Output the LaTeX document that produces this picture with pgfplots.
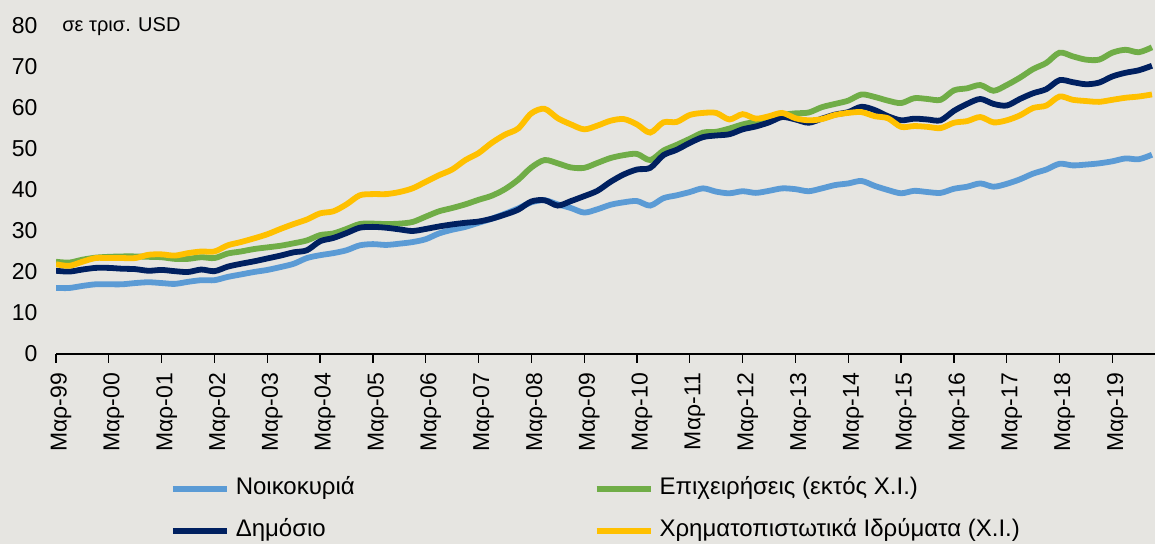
\documentclass[border=0pt]{standalone}
\usepackage{fontspec}
\setmainfont{Liberation Sans}
\usepackage{pgfplots}
\usepackage{pgfplotstable}
\pgfplotsset{compat=1.18}
\definecolor{bg}{RGB}{230,229,225}
\definecolor{hh}{RGB}{91,155,213}
\definecolor{bus}{RGB}{112,173,71}
\definecolor{gov}{RGB}{0,32,96}
\definecolor{fin}{RGB}{255,192,0}
\pgfplotstableread{
q v
0 16.1
1 16.1
2 16.6
3 17.0
4 17.0
5 17.0
6 17.3
7 17.5
8 17.3
9 17.1
10 17.6
11 18.0
12 18.0
13 18.8
14 19.4
15 20.0
16 20.5
17 21.2
18 22.0
19 23.4
20 24.1
21 24.6
22 25.3
23 26.5
24 26.8
25 26.6
26 26.9
27 27.3
28 28.0
29 29.4
30 30.3
31 31.0
32 32.0
33 33.0
34 34.2
35 35.5
36 37.0
37 37.5
38 36.5
39 35.6
40 34.5
41 35.3
42 36.4
43 37.0
44 37.3
45 36.2
46 38.0
47 38.7
48 39.5
49 40.4
50 39.6
51 39.2
52 39.7
53 39.3
54 39.8
55 40.4
56 40.2
57 39.7
58 40.4
59 41.2
60 41.6
61 42.2
62 41.0
63 40.0
64 39.2
65 39.8
66 39.5
67 39.3
68 40.3
69 40.8
70 41.6
71 40.8
72 41.5
73 42.6
74 44.0
75 45.0
76 46.4
77 46.0
78 46.2
79 46.5
80 47.0
81 47.7
82 47.5
83 48.6
}\hhdata
\pgfplotstableread{
q v
0 22.5
1 22.3
2 23.0
3 23.5
4 23.7
5 23.8
6 23.8
7 23.7
8 23.6
9 23.2
10 23.2
11 23.6
12 23.4
13 24.5
14 25.0
15 25.6
16 26.0
17 26.4
18 27.0
19 27.7
20 29.0
21 29.4
22 30.5
23 31.7
24 31.8
25 31.7
26 31.8
27 32.2
28 33.5
29 34.8
30 35.6
31 36.5
32 37.6
33 38.6
34 40.2
35 42.5
36 45.5
37 47.3
38 46.5
39 45.5
40 45.4
41 46.6
42 47.8
43 48.5
44 48.8
45 47.3
46 49.6
47 51.0
48 52.5
49 54.0
50 54.2
51 55.0
52 56.0
53 56.7
54 57.4
55 58.3
56 58.7
57 58.9
58 60.2
59 61.0
60 61.8
61 63.3
62 62.7
63 61.8
64 61.2
65 62.4
66 62.2
67 62.0
68 64.3
69 64.8
70 65.6
71 64.2
72 65.6
73 67.4
74 69.5
75 71.0
76 73.5
77 72.6
78 71.8
79 71.8
80 73.5
81 74.2
82 73.6
83 74.8
}\busdata
\pgfplotstableread{
q v
0 20.3
1 20.1
2 20.6
3 21.0
4 21.0
5 20.8
6 20.7
7 20.3
8 20.5
9 20.2
10 20.0
11 20.6
12 20.2
13 21.3
14 22.0
15 22.6
16 23.3
17 24.0
18 24.8
19 25.3
20 27.5
21 28.3
22 29.5
23 30.8
24 31.0
25 30.8
26 30.4
27 30.0
28 30.5
29 31.1
30 31.6
31 32.0
32 32.3
33 33.0
34 34.0
35 35.2
36 37.2
37 37.5
38 36.2
39 37.3
40 38.5
41 39.8
42 42.0
43 43.8
44 45.0
45 45.4
46 48.5
47 49.8
48 51.5
49 52.9
50 53.3
51 53.6
52 54.8
53 55.5
54 56.5
55 57.8
56 57.2
57 56.4
58 57.4
59 58.4
60 59.0
61 60.3
62 59.5
63 58.0
64 57.0
65 57.4
66 57.2
67 57.0
68 59.3
69 61.0
70 62.2
71 61.0
72 60.6
73 62.2
74 63.6
75 64.6
76 66.8
77 66.3
78 65.8
79 66.2
80 67.7
81 68.6
82 69.2
83 70.3
}\govdata
\pgfplotstableread{
q v
0 21.9
1 21.5
2 22.5
3 23.4
4 23.4
5 23.4
6 23.4
7 24.2
8 24.3
9 24.0
10 24.6
11 25.0
12 25.0
13 26.5
14 27.3
15 28.2
16 29.2
17 30.5
18 31.7
19 32.8
20 34.3
21 34.8
22 36.5
23 38.7
24 39.0
25 39.0
26 39.5
27 40.4
28 42.0
29 43.6
30 45.0
31 47.3
32 49.0
33 51.5
34 53.5
35 55.0
36 58.7
37 59.8
38 57.5
39 56.0
40 54.8
41 55.7
42 56.9
43 57.3
44 56.0
45 54.0
46 56.5
47 56.6
48 58.3
49 58.8
50 58.8
51 57.2
52 58.5
53 57.4
54 58.0
55 58.8
56 57.5
57 57.0
58 57.3
59 58.3
60 58.8
61 59.0
62 58.0
63 57.5
64 55.4
65 55.6
66 55.4
67 55.1
68 56.4
69 56.8
70 57.8
71 56.5
72 57.0
73 58.2
74 60.0
75 60.6
76 62.8
77 62.0
78 61.7
79 61.5
80 62.0
81 62.5
82 62.8
83 63.3
}\findata
\begin{document}
\begin{tikzpicture}
\useasboundingbox (0,0) rectangle (577.5pt,272pt);
\fill[bg] (0,0) rectangle (577.5pt,272pt);
\begin{axis}[
  at={(28pt,95pt)}, anchor=south west,
  scale only axis, width=549.5pt, height=164pt,
  xmin=0, xmax=83.23, ymin=0, ymax=80,
  axis lines*=left,
  y axis line style={draw=none},
  x axis line style={line width=0.8pt, black},
  xtick={0,4,...,80},
  xticklabels={Μαρ-99,Μαρ-00,Μαρ-01,Μαρ-02,Μαρ-03,Μαρ-04,Μαρ-05,Μαρ-06,Μαρ-07,Μαρ-08,Μαρ-09,Μαρ-10,Μαρ-11,Μαρ-12,Μαρ-13,Μαρ-14,Μαρ-15,Μαρ-16,Μαρ-17,Μαρ-18,Μαρ-19},
  ytick={0,10,...,80},
  tick align=outside,
  major tick length=4.5pt,
  xtick style={line width=0.6pt, black},
  ytick style={draw=none},
  tick label style={font=\fontsize{11.5}{13}\selectfont, black},
  /pgf/number format/assume math mode=true,
  xticklabel style={yshift=-1.5pt, xshift=2.5pt, rotate=90, anchor=east},
  yticklabel style={xshift=-1.3pt},
  legend columns=2,
  legend cell align=left,
  legend image code/.code={\draw[#1, line width=2.9pt] (0pt,0pt) -- (27pt,0pt);},
  legend style={at={(axis description cs:0.1037,-0.3613)}, anchor=north west,
    draw=none, fill=none, inner sep=0pt, outer sep=0pt,
    font=\fontsize{12}{14}\selectfont, row sep=4.5pt,
    nodes={text height=8pt, text depth=2.5pt, inner sep=3pt}},
]
\addplot[hh, line width=2.9pt, smooth, tension=0.5] table[x=q,y=v]{\hhdata};
\addlegendentry{\makebox[176pt][l]{Νοικοκυριά}}
\addplot[bus, line width=2.9pt, smooth, tension=0.5] table[x=q,y=v]{\busdata};
\addlegendentry{Επιχειρήσεις (εκτός Χ.Ι.)}
\addplot[gov, line width=2.9pt, smooth, tension=0.5] table[x=q,y=v]{\govdata};
\addlegendentry{\makebox[176pt][l]{Δημόσιο}}
\addplot[fin, line width=2.9pt, smooth, tension=0.5] table[x=q,y=v]{\findata};
\addlegendentry{Χρηματοπιστωτικά Ιδρύματα (Χ.Ι.)}
\end{axis}
\node[anchor=west, font=\fontsize{10}{12}\selectfont, inner sep=0pt] at (31pt,258.5pt) {σε τρισ. USD};
\end{tikzpicture}
\end{document}
